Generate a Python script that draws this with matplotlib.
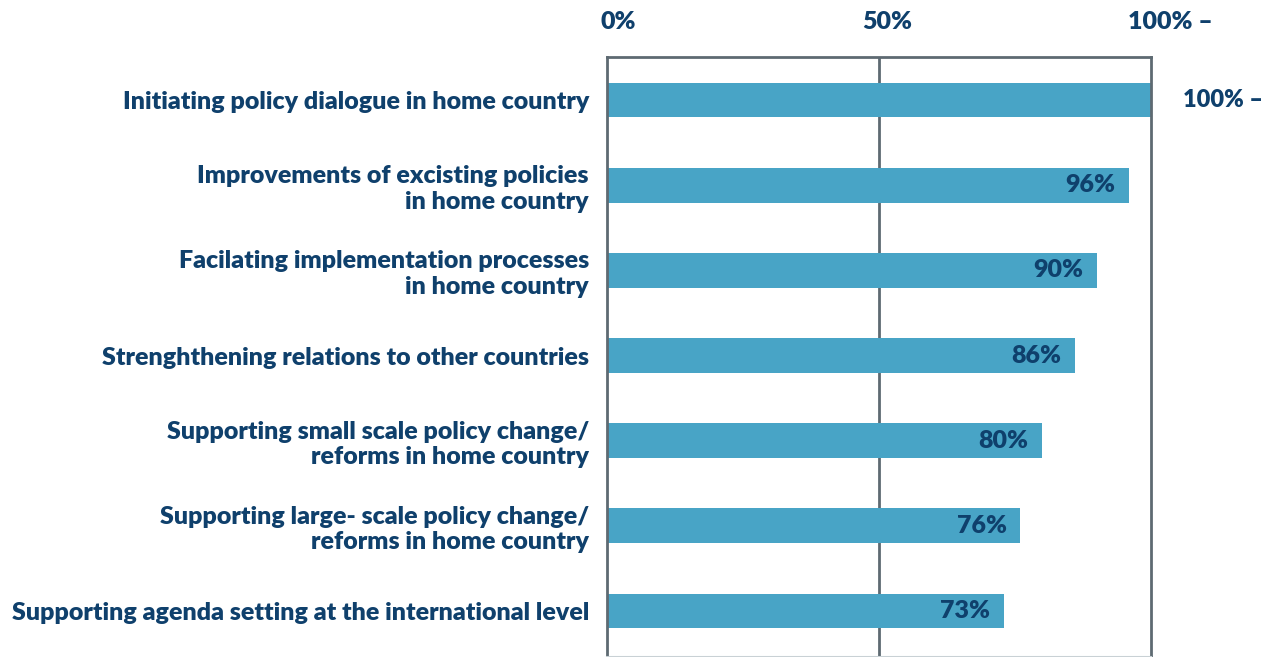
import matplotlib
matplotlib.use("Agg")
import matplotlib.pyplot as plt

# data
categories = [
    "Initiating policy dialogue in home country",
    "Improvements of excisting policies\nin home country",
    "Facilating implementation processes\nin home country",
    "Strenghthening relations to other countries",
    "Supporting small scale policy change/\nreforms in home country",
    "Supporting large- scale policy change/\nreforms in home country",
    "Supporting agenda setting at the international level",
]
values = [100, 96, 90, 86, 80, 76, 73]
tick_values = [0, 50, 100]
tick_labels = ["0%", "50%", "100% \u2013"]

bar_color = "#48a4c6"
text_color = "#0f406c"
line_color = "#5e6a72"
fs = 18

plt.rcParams["font.family"] = ["Lato", "DejaVu Sans"]
plt.rcParams["font.weight"] = "bold"

fig = plt.figure(figsize=(12.63, 6.57), dpi=100)
ax = fig.add_axes([0.4806, 0.0, 0.4307, 0.9132])

ypos = list(range(len(categories)))
ax.barh(ypos, values, height=0.41, color=bar_color, zorder=2)
ax.set_ylim(len(categories) - 0.46, -0.505)
ax.set_xlim(0, 100)

ax.set_yticks(ypos)
ax.set_yticklabels(categories, fontsize=fs, color=text_color,
                   fontweight="heavy", linespacing=1.2)
ax.tick_params(axis="y", length=0, pad=13)

# top tick labels as text
ax.set_xticks([])
offsets = [2.0, 1.5, 3.5]
for v, lab, off in zip(tick_values, tick_labels, offsets):
    ax.text(v + off, -0.92, lab, ha="center", va="center",
            fontsize=fs, color=text_color, fontweight="heavy")

# 50% line
ax.axvline(50, color=line_color, linewidth=2, zorder=1)

for s in ["left", "top", "right"]:
    ax.spines[s].set_color(line_color)
    ax.spines[s].set_linewidth(2)
ax.spines["bottom"].set_color("#c9d1d5")
ax.spines["bottom"].set_linewidth(1.5)

# value labels
for y, v in zip(ypos, values):
    if v >= 100:
        ax.text(v + 5.8, y, f"{v}% \u2013", ha="left", va="center",
                fontsize=17, color=text_color, fontweight="heavy")
    else:
        ax.text(v - 2.5, y, f"{v}%", ha="right", va="center",
                fontsize=fs, color=text_color, fontweight="heavy", zorder=3)

fig.savefig("out.png", dpi=100)
